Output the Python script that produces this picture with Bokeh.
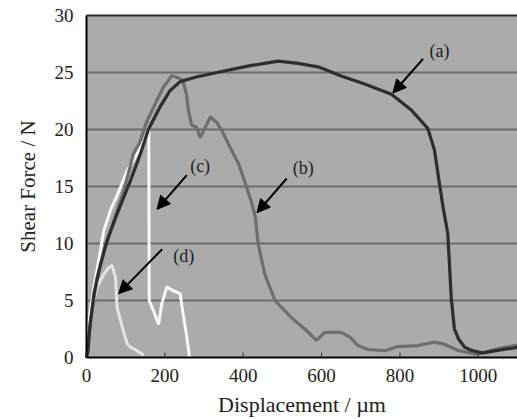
import math
from bokeh.plotting import figure
from bokeh.models import Range1d, Arrow, NormalHead, ColumnDataSource
from bokeh.core.properties import value
from bokeh.embed import file_html
from bokeh.resources import INLINE

# ---- data ----
a_x = [0, 4, 8, 19, 36, 53, 78, 112, 138, 158, 188, 213, 239, 280, 333, 418, 489, 540, 591, 650, 710, 778, 829, 871, 888, 901, 910, 922, 931, 939, 950, 965, 985, 1012, 1046, 1100]
a_y = [0, 0.6, 2.5, 5.6, 8.2, 10.3, 12.6, 15.5, 17.9, 20.0, 22.0, 23.4, 24.2, 24.6, 25.0, 25.6, 26.0, 25.8, 25.5, 24.7, 24.0, 23.1, 21.7, 20.1, 18.2, 15.2, 13.2, 10.9, 5.2, 2.5, 1.6, 0.9, 0.6, 0.4, 0.6, 0.9]

b_x = [0, 4, 10, 27, 48, 70, 95, 120, 135, 155, 196, 217, 230, 246, 255, 260, 268, 281, 290, 299, 316, 333, 350, 367, 388, 409, 422, 431, 438, 455, 481, 523, 557, 587, 608, 650, 672, 693, 718, 761, 795, 846, 888, 910, 950, 995, 1021, 1055, 1100]
b_y = [0, 1.0, 3.2, 7.0, 9.7, 12.0, 14.6, 17.9, 18.8, 20.8, 23.7, 24.7, 24.6, 24.3, 23.1, 21.7, 20.4, 20.2, 19.3, 19.9, 21.1, 20.6, 19.6, 18.4, 17.0, 14.9, 13.5, 12.3, 10.0, 7.3, 5.0, 3.5, 2.5, 1.5, 2.2, 2.2, 1.8, 1.05, 0.7, 0.6, 0.96, 1.05, 1.35, 1.2, 0.6, 0.3, 0.5, 0.8, 1.1]

c_x = [0, 2, 6, 19, 31, 44, 61, 78, 104, 125, 142, 154, 159, 160, 171, 184, 192, 205, 218, 239, 248, 256, 263]
c_y = [0, 0.6, 3.2, 6.2, 8.5, 11.1, 12.9, 14.2, 16.4, 17.6, 18.7, 19.6, 20.2, 5.0, 4.1, 2.9, 4.7, 6.2, 5.9, 5.6, 3.5, 1.8, 0]

d_x = [0, 2, 14, 27, 44, 57, 65, 74, 78, 91, 104, 112, 129, 146]
d_y = [0, 2.7, 4.4, 6.2, 7.3, 7.9, 8.1, 7.0, 4.4, 2.7, 1.2, 0.9, 0.6, 0.2]

labels = ["(a)", "(b)", "(c)", "(d)"]
label_x = [901, 553, 290, 248]
label_y = [26.9, 16.6, 16.8, 8.9]
arrow_x0 = [859, 511, 256, 193]
arrow_y0 = [26.2, 15.7, 16.0, 9.5]
arrow_x1 = [782, 435, 180, 82]
arrow_y1 = [23.2, 12.7, 13.0, 5.6]

x_ticks = [0, 200, 400, 600, 800, 1000]
y_ticks = [0, 5, 10, 15, 20, 25, 30]
grid_y = [5, 10, 15, 20, 25]
x_title = "Displacement / µm"
y_title = "Shear Force / N"

X_MIN, X_MAX = 0, 1100
Y_MIN, Y_MAX = 0, 30

FONT = value("Liberation Serif")
TXT = "#222222"

W, H = 517, 419
# plotting area occupies pixels x 86..517, y 15..357 of the canvas
PX_L, PX_T, PX_B = 86, 15, 357
sx = (W - PX_L) / (X_MAX - X_MIN)
sy = (PX_B - PX_T) / (Y_MAX - Y_MIN)

p = figure(width=W, height=H, output_backend="svg", toolbar_location=None,
           x_range=Range1d(X_MIN - PX_L / sx, X_MAX),
           y_range=Range1d(Y_MIN - (H - PX_B) / sy, Y_MAX + PX_T / sy),
           x_axis_location=None, y_axis_location=None,
           min_border=0)
p.background_fill_color = "white"
p.border_fill_color = "white"
p.outline_line_color = None
p.grid.visible = False

# plot-area background
p.quad(left=[X_MIN], right=[X_MAX], bottom=[Y_MIN], top=[Y_MAX],
       fill_color="#ababab", line_color=None)

# horizontal grid lines
p.segment(x0=[X_MIN] * len(grid_y), y0=grid_y, x1=[X_MAX] * len(grid_y), y1=grid_y,
          line_color="#6c6c6c", line_width=2)

# top border
p.segment(x0=[X_MIN], y0=[Y_MAX], x1=[X_MAX], y1=[Y_MAX], line_color="#2a2a2a", line_width=2)

# data curves
p.line(d_x, d_y, line_color="#e4e4e4", line_width=3)
p.line(c_x, c_y, line_color="#f8f8f8", line_width=3)
p.line(b_x, b_y, line_color="#6e6e6e", line_width=3.2)
p.line(a_x, a_y, line_color="#2e2e2e", line_width=3.2)

# axis lines
p.segment(x0=[X_MIN], y0=[Y_MIN], x1=[X_MAX], y1=[Y_MIN], line_color="black", line_width=2)
p.segment(x0=[X_MIN], y0=[Y_MIN], x1=[X_MIN], y1=[Y_MAX], line_color="black", line_width=2)

# inward x ticks
p.ray(x=x_ticks, y=[Y_MIN] * len(x_ticks), length=5, length_units="screen",
      angle=math.pi / 2, line_color="#333333", line_width=1)

# tick labels
p.text(x=x_ticks, y=[Y_MIN] * len(x_ticks), text=[str(t) for t in x_ticks],
       y_offset=18, text_font=FONT, text_font_size="19px", text_color=TXT,
       text_align="center", text_baseline="middle")
p.text(x=[X_MIN] * len(y_ticks), y=y_ticks, text=[str(t) for t in y_ticks],
       x_offset=-13, text_font=FONT, text_font_size="19px", text_color=TXT,
       text_align="right", text_baseline="middle")

# axis titles
p.text(x=[(X_MIN + X_MAX) / 2], y=[Y_MIN], text=[x_title], y_offset=47,
       text_font=FONT, text_font_size="22px", text_color=TXT,
       text_align="center", text_baseline="middle")
p.text(x=[X_MIN], y=[(Y_MIN + Y_MAX) / 2], text=[y_title], x_offset=-59, angle=math.pi / 2,
       text_font=FONT, text_font_size="21px", text_color=TXT,
       text_align="center", text_baseline="middle")

# annotation arrows and labels
for i in range(len(labels)):
    p.add_layout(Arrow(end=NormalHead(size=13, fill_color="black", line_color="black"),
                       x_start=arrow_x0[i], y_start=arrow_y0[i],
                       x_end=arrow_x1[i], y_end=arrow_y1[i],
                       line_color="black", line_width=2))

src = ColumnDataSource(dict(x=label_x, y=label_y, t=labels))
p.text(x="x", y="y", text="t", source=src, text_font=FONT, text_font_size="18px",
       text_align="center", text_baseline="middle", text_color=TXT)

open("out.html", "w").write(file_html(p, INLINE))
